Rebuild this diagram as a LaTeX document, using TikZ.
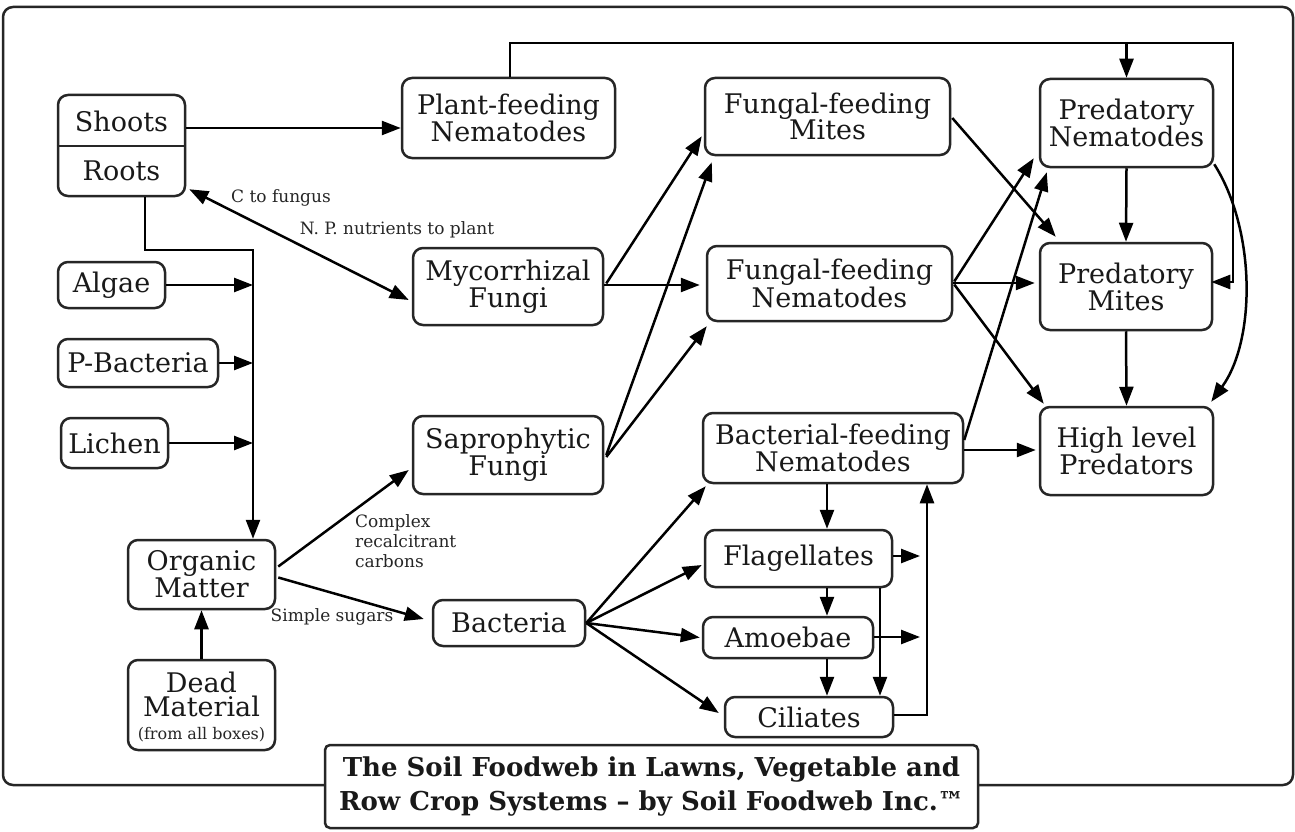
\documentclass[tikz,border=0pt]{standalone}
\usepackage{fontspec}
\setmainfont{DejaVu Serif}
\usetikzlibrary{arrows.meta,calc}
\begin{document}
\begin{tikzpicture}[x=1pt,y=-1pt,
  box/.style={draw=black!85, line width=2.5pt, rounded corners=10pt, fill=white, inner sep=0pt, align=center, font=\fontsize{27}{24}\selectfont, text=black!90},
  txt/.style={inner sep=0pt, align=center, font=\fontsize{27}{24}\selectfont, text=black!90},
  lbl/.style={inner sep=0pt, align=left, font=\fontsize{17}{20}\selectfont, text=black!85},
  ln/.style={line width=2.5pt, draw=black},
  arr/.style={ln, -{Triangle[length=19pt,width=14pt]}},
  arrd/.style={ln, {Triangle[length=19pt,width=14pt]}-{Triangle[length=19pt,width=14pt]}},
]
\useasboundingbox (0,0) rectangle (1295,832);
\fill[white] (0,0) rectangle (1295,832);
% outer frame
\draw[line width=2.5pt, draw=black!85, rounded corners=10pt] (3,7) rectangle (1293,785);

% nodes
\node[box, minimum width=127pt, minimum height=101pt] (sr) at (121.5,145.5) {};
\draw[line width=2.5pt, draw=black!85] (sr.west |- 0,146) -- (sr.east |- 0,146);
\node[txt] (shoots) at (121.5,121) {Shoots};
\node[txt] (roots) at (121.5,171) {Roots};

\node[box, minimum width=213pt, minimum height=80pt] (pfn) at (508.5,118) {Plant-feeding\\Nematodes};
\node[box, minimum width=245pt, minimum height=77pt] (ffm) at (827.5,116.5) {Fungal-feeding\\Mites};
\node[box, minimum width=173pt, minimum height=88pt] (pn) at (1126.5,123) {Predatory\\Nematodes};
\node[box, minimum width=190pt, minimum height=77pt] (myc) at (508,286.5) {Mycorrhizal\\Fungi};
\node[box, minimum width=245pt, minimum height=75pt] (ffn) at (829.5,283.5) {Fungal-feeding\\Nematodes};
\node[box, minimum width=172pt, minimum height=87pt] (pm) at (1126,286.5) {Predatory\\Mites};
\node[box, minimum width=107pt, minimum height=46pt] (algae) at (111.5,285) {Algae};
\node[box, minimum width=160pt, minimum height=48pt] (pbac) at (138,363) {P-Bacteria};
\node[box, minimum width=107pt, minimum height=50pt] (lichen) at (114.5,443) {Lichen};
\node[box, minimum width=190pt, minimum height=78pt] (sap) at (508,455) {Saprophytic\\Fungi};
\node[box, minimum width=260pt, minimum height=70pt] (bfn) at (833,448) {Bacterial-feeding\\Nematodes};
\node[box, minimum width=173pt, minimum height=88pt] (hlp) at (1126.5,451) {High level\\Predators};
\node[box, minimum width=147pt, minimum height=69pt] (om) at (201.5,574.5) {Organic\\Matter};
\node[box, minimum width=187pt, minimum height=57pt] (flag) at (798.5,558.5) {Flagellates};
\node[box, minimum width=152pt, minimum height=46pt] (bac) at (509,623) {Bacteria};
\node[box, minimum width=170pt, minimum height=41pt] (amo) at (788,637.5) {Amoebae};
\node[box, minimum width=168pt, minimum height=40pt] (cil) at (809,717) {Ciliates};
\node[box, minimum width=147pt, minimum height=90pt] (dead) at (201.5,705) {};
\node[txt] (deadt) at (201.5,694) {Dead\\Material};
\node[inner sep=0pt, font=\fontsize{16}{16}\selectfont, text=black!85] (deads) at (201.5,735) {(from all boxes)};

% labels
\node[lbl] (l1) at (281,198) {C to fungus};
\node[lbl] (l2) at (397,230) {N. P. nutrients to plant};
\node[lbl, anchor=west] (l3) at (355,541) {Complex\\recalcitrant\\carbons};
\node[lbl] (l4) at (332,617) {Simple sugars};

% junction coordinates
\coordinate (bus) at (253,250);
\coordinate (tl) at (510,43);
\coordinate (tr) at (1233,43);
\coordinate (vx) at (827,0);
\coordinate (vx2) at (880,0);
\coordinate (vx3) at (927,0);
\coordinate (fr) at (920,556);
\coordinate (ar) at (920,637);

% connectors
\draw[arr] (sr.east |- 0,128) -- (pfn.west |- 0,128);
\draw[arrd] ($(sr.south east)+(3,-8)$) -- ($(myc.west)+(-3,13.5)$);
\draw[arr] ($(sr.south)+(23.5,0)$) |- (bus) -- (bus |- om.north);
\draw[arr] (algae.east) -- (algae.east -| bus);
\draw[arr] (pbac.east) -- (pbac.east -| bus);
\draw[arr] (lichen.east) -- (lichen.east -| bus);
\draw[arr] (dead.north) -- (om.south);
\draw[arr] ($(om.east)+(2,-8)$) -- ($(sap.west)+(-3,15)$);
\draw[arr] ($(om.east)+(2,3)$) -- ($(bac.west)+(-8,-4)$);

\draw[arr] ($(myc.east)+(2,-3)$) -- ($(ffm.south west)+(-2,-20)$);
\draw[arr] (myc.east |- 0,285) -- ($(ffn.west |- 0,285)+(-6,0)$);
\draw[arr] ($(sap.east)+(2,0)$) -- ($(ffm.south west)+(8,6)$);
\draw[arr] ($(sap.east)+(2,2)$) -- ($(ffn.south west)+(1,4)$);

\draw[arr] ($(ffm.east)+(1,1.5)$) -- ($(pm.north west)+(17,-5)$);
\draw[arr] ($(ffn.east)+(1,-2)$) -- ($(pn.south west)+(-5,-10)$);
\draw[arr] (ffn.east |- 0,283) -- ($(pm.west |- 0,283)+(-4,0)$);
\draw[arr] ($(ffn.east)+(1,1)$) -- ($(hlp.north west)+(5,-2)$);
\draw[arr] ($(bfn.east)+(0,-8)$) -- ($(pn.south west)+(8,4)$);
\draw[arr] (bfn.east |- 0,450) -- ($(hlp.west |- 0,450)+(-3,0)$);

\draw[arr] (pn.south) -- (pm.north);
\draw[arr] (pm.south) -- (hlp.north);
\draw[arr] ($(pn.south east)+(0,-4)$) .. controls (1256,230) and (1256,340) .. ($(hlp.north east)+(-3,-4)$);

\draw[arr] (pfn.north -| tl) |- (tr) |- ($(pm.east |- 0,282)+(-2,0)$);
\draw[arr] (pn.north |- tr) -- (pn.north);

\draw[arr] (bac.east) -- ($(bfn.south west)+(4,2)$);
\draw[arr] (bac.east) -- ($(flag.west)+(-2,6.5)$);
\draw[arr] (bac.east) -- ($(amo.west)+(-2,0)$);
\draw[arr] (bac.east) -- ($(cil.west)+(-5,-4)$);

\draw[arr] (bfn.south -| vx) -- (flag.north -| vx);
\draw[arr] (flag.south -| vx) -- (amo.north -| vx);
\draw[arr] (amo.south -| vx) -- (cil.north -| vx);
\draw[arr] (flag.south -| vx2) -- (cil.north -| vx2);
\draw[arr] (flag.east |- fr) -- (fr);
\draw[arr] (amo.east |- ar) -- (ar);
\draw[arr] (cil.east |- 0,715) -| (bfn.south -| vx3);

% title
\node[box, rounded corners=5pt, minimum width=653pt, minimum height=83pt, font=\bfseries\fontsize{26}{34}\selectfont] (title) at (651.5,786.5) {The Soil Foodweb in Lawns, Vegetable and\\Row Crop Systems – by Soil Foodweb Inc.™};
\end{tikzpicture}
\end{document}
